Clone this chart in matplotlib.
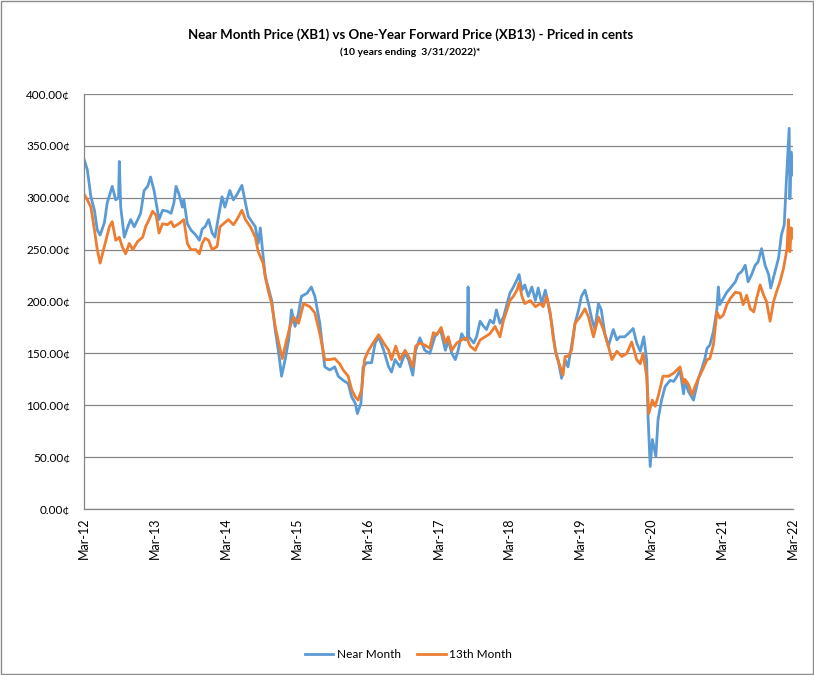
import matplotlib
matplotlib.use("Agg")
import matplotlib.pyplot as plt
import matplotlib.ticker as mticker
from matplotlib.patches import Rectangle
import pandas as pd

# dates as decimal years, prices in cents
near_t = [2012.24, 2012.29, 2012.34, 2012.39, 2012.43, 2012.47, 2012.53, 2012.57, 2012.64, 2012.69,
          2012.73, 2012.74, 2012.76, 2012.81, 2012.86, 2012.90, 2012.95,
          2013.00, 2013.04, 2013.09, 2013.14, 2013.18, 2013.23, 2013.26, 2013.30, 2013.35, 2013.42,
          2013.47, 2013.51, 2013.54, 2013.58, 2013.63, 2013.65, 2013.70, 2013.75, 2013.82, 2013.87, 2013.91,
          2013.95, 2014.00, 2014.05, 2014.09, 2014.14, 2014.19, 2014.23, 2014.30, 2014.35, 2014.40, 2014.47,
          2014.52, 2014.56, 2014.66, 2014.70, 2014.73, 2014.76, 2014.80, 2014.84, 2014.89, 2014.94, 2014.99,
          2015.03, 2015.08, 2015.13, 2015.17, 2015.22, 2015.27, 2015.31, 2015.39, 2015.45, 2015.50, 2015.57,
          2015.64, 2015.71, 2015.78, 2015.83, 2015.90, 2015.97,
          2016.02, 2016.07, 2016.10, 2016.15, 2016.18, 2016.23, 2016.30, 2016.35, 2016.40, 2016.47, 2016.54,
          2016.58, 2016.63, 2016.70, 2016.77, 2016.82, 2016.88, 2016.92, 2016.98,
          2017.05, 2017.12, 2017.19, 2017.27,
          2017.34, 2017.38, 2017.43, 2017.48, 2017.52, 2017.57, 2017.62, 2017.65, 2017.66, 2017.67, 2017.74,
          2017.78, 2017.83, 2017.88, 2017.92, 2017.97,
          2018.02, 2018.06, 2018.11, 2018.16, 2018.21, 2018.25, 2018.30, 2018.35, 2018.38, 2018.42, 2018.46,
          2018.51, 2018.56, 2018.61, 2018.65, 2018.70, 2018.75, 2018.79, 2018.84, 2018.89, 2018.93, 2018.98,
          2019.03, 2019.07, 2019.12, 2019.17, 2019.22, 2019.26, 2019.31, 2019.36, 2019.40, 2019.45, 2019.50,
          2019.54, 2019.59, 2019.64, 2019.71, 2019.76, 2019.80, 2019.87, 2019.92, 2019.99,
          2020.04, 2020.09, 2020.14, 2020.18, 2020.20, 2020.23, 2020.26, 2020.31, 2020.34, 2020.39, 2020.44,
          2020.51, 2020.56, 2020.60, 2020.65, 2020.70,
          2020.72, 2020.77, 2020.84, 2020.91, 2020.96,
          2021.00, 2021.03, 2021.07, 2021.12, 2021.17, 2021.19, 2021.21, 2021.26, 2021.31, 2021.36, 2021.43,
          2021.47, 2021.52, 2021.57, 2021.61, 2021.66, 2021.71, 2021.75, 2021.80, 2021.85, 2021.90, 2021.93,
          2021.98,
          2022.04, 2022.08, 2022.12, 2022.15, 2022.17, 2022.19, 2022.20, 2022.22, 2022.25]
near_cents = [338, 327, 301, 288, 269, 264, 276, 295, 311, 298,
              300, 335, 291, 262, 272, 279, 272,
              279, 285, 307, 311, 320, 307, 295, 279, 288, 287,
              285, 295, 311, 304, 291, 298, 275, 269, 264, 259, 270,
              272, 279, 266, 262, 282, 301, 291, 307, 298, 303, 312,
              295, 282, 272, 256, 271, 250, 224, 214, 201, 173, 150,
              128, 144, 163, 192, 176, 189, 205, 208, 214, 205, 179,
              137, 134, 137, 128, 124, 121,
              108, 102, 92, 102, 137, 141, 141, 160, 166, 153, 137,
              132, 144, 137, 150, 144, 129, 153, 165,
              153, 150, 166, 173,
              153, 163, 150, 144, 153, 169, 163, 165, 214, 166, 160,
              166, 181, 176, 173, 182,
              179, 192, 179, 185, 198, 208, 214, 221, 226, 211, 216,
              205, 214, 201, 213, 198, 211, 198, 179, 153, 144, 126,
              144, 137, 157, 179, 192, 205, 211, 198, 185, 173, 198,
              192, 169, 157, 173, 163, 166, 166, 169, 174,
              160, 152, 166, 144, 89, 41, 67, 51, 86, 105, 118,
              124, 123, 127, 134, 111,
              123, 113, 105, 126, 136,
              145, 155, 158, 171, 193, 214, 197, 203, 209, 213, 219,
              226, 229, 235, 219, 226, 235, 238, 251, 235, 226, 213,
              226,
              242, 264, 274, 316, 341, 367, 299, 344, 322]

fwd_t = [2012.24, 2012.29, 2012.34, 2012.39, 2012.43, 2012.47, 2012.53, 2012.60, 2012.64, 2012.69,
         2012.74, 2012.78, 2012.83, 2012.88, 2012.93,
         2013.00, 2013.07, 2013.11, 2013.16, 2013.21, 2013.26, 2013.30, 2013.35, 2013.42, 2013.47,
         2013.51, 2013.58, 2013.65, 2013.70, 2013.75, 2013.82, 2013.87, 2013.91,
         2013.95, 2014.00, 2014.05, 2014.12, 2014.16, 2014.21, 2014.28, 2014.35, 2014.40, 2014.47,
         2014.52, 2014.59, 2014.66, 2014.70, 2014.77, 2014.80, 2014.84, 2014.89, 2014.94, 2014.99,
         2015.04, 2015.09, 2015.15, 2015.20, 2015.27, 2015.34, 2015.43, 2015.50, 2015.57,
         2015.64, 2015.71, 2015.78, 2015.85, 2015.90, 2015.97,
         2016.02, 2016.07, 2016.11, 2016.16, 2016.20, 2016.25, 2016.32, 2016.40, 2016.47, 2016.54,
         2016.58, 2016.64, 2016.70, 2016.77, 2016.82, 2016.88, 2016.92, 2016.98,
         2017.05, 2017.12, 2017.17, 2017.22, 2017.28,
         2017.34, 2017.38, 2017.43, 2017.50, 2017.57, 2017.64, 2017.69, 2017.76, 2017.83, 2017.90, 2017.97,
         2018.04, 2018.11, 2018.16, 2018.21, 2018.25, 2018.30, 2018.35, 2018.38, 2018.42, 2018.46,
         2018.54, 2018.61, 2018.68, 2018.72, 2018.77, 2018.82, 2018.86, 2018.91, 2018.96, 2019.00,
         2019.03, 2019.07, 2019.12, 2019.17, 2019.24, 2019.31, 2019.36, 2019.43, 2019.50, 2019.57,
         2019.64, 2019.69, 2019.76, 2019.83, 2019.90, 2019.97,
         2020.04, 2020.09, 2020.13, 2020.18, 2020.21, 2020.26, 2020.30, 2020.34, 2020.41, 2020.49,
         2020.56, 2020.65, 2020.70,
         2020.72, 2020.77, 2020.82, 2020.86, 2020.91, 2020.98,
         2021.03, 2021.07, 2021.12, 2021.17, 2021.21, 2021.26, 2021.31, 2021.36, 2021.43, 2021.50,
         2021.54, 2021.59, 2021.64, 2021.69, 2021.73, 2021.78, 2021.83, 2021.87, 2021.92, 2021.97,
         2022.01, 2022.06, 2022.11, 2022.16, 2022.18, 2022.20, 2022.22, 2022.25]
fwd_cents = [304, 298, 291, 269, 250, 237, 253, 272, 277, 259,
             262, 253, 246, 256, 250,
             258, 262, 272, 279, 287, 283, 266, 275, 274, 277,
             272, 275, 279, 256, 250, 250, 246, 256,
             261, 259, 250, 253, 272, 275, 279, 274, 279, 288,
             279, 272, 262, 248, 237, 224, 211, 198, 176, 160,
             145, 160, 176, 185, 179, 198, 195, 189, 169,
             144, 144, 145, 140, 134, 128,
             115, 108, 105, 115, 144, 152, 160, 168, 160, 153,
             144, 157, 144, 153, 147, 137, 157, 160,
             158, 155, 170, 168, 175,
             160, 166, 153, 160, 163, 165, 157, 153, 163, 166, 169,
             176, 166, 182, 192, 201, 205, 211, 218, 205, 198,
             201, 195, 198, 195, 205, 189, 166, 147, 137, 129,
             147, 147, 153, 179, 185, 193, 185, 166, 185, 173,
             157, 144, 152, 147, 150, 161,
             144, 140, 150, 128, 92, 105, 99, 108, 128, 128,
             131, 137, 121,
             125, 120, 110, 118, 126, 136,
             144, 145, 158, 190, 184, 187, 197, 203, 209, 208,
             197, 206, 193, 190, 203, 216, 206, 200, 181, 200,
             209, 219, 232, 251, 279, 248, 271, 261]

year_ticks = list(range(2012, 2023))


def to_date(t):
    y = int(t)
    start = pd.Timestamp(year=y, month=1, day=1)
    ndays = 366 if pd.Timestamp(year=y, month=12, day=31).dayofyear == 366 else 365
    return start + pd.Timedelta(days=(t - y) * ndays)


near_dates = [to_date(t) for t in near_t]
fwd_dates = [to_date(t) for t in fwd_t]

plt.rcParams['font.family'] = ['Lato', 'DejaVu Sans']

fig = plt.figure(figsize=(8.14, 6.75), dpi=100)
ax = fig.add_axes([0.1032, 0.2459, 0.871, 0.6148])

ax.plot(near_dates, near_cents, color='#5B9BD5', lw=2.0, solid_joinstyle='round', label='Near Month')
ax.plot(fwd_dates, fwd_cents, color='#ED7D31', lw=2.0, solid_joinstyle='round', label='13th Month')

ax.set_ylim(0, 400)
ax.yaxis.set_major_locator(mticker.MultipleLocator(50))
ax.yaxis.set_major_formatter(mticker.FuncFormatter(lambda v, p: '%.2f\u00a2' % v))
ax.grid(axis='y', color='#868686', lw=0.9)
ax.set_axisbelow(True)

ticks = [pd.Timestamp(year=y, month=3, day=30) for y in year_ticks]
ax.set_xlim(ticks[0], pd.Timestamp(2022, 3, 31))
ax.set_xticks(ticks)
ax.set_xticklabels(['Mar-%02d' % (y % 100) for y in year_ticks], rotation=90)

for s in ['top', 'right']:
    ax.spines[s].set_visible(False)
for s in ['left', 'bottom']:
    ax.spines[s].set_color('#868686')
    ax.spines[s].set_linewidth(0.9)
ax.tick_params(axis='both', length=0, labelsize=8.5, colors='#000000')
ax.tick_params(axis='x', labelsize=9, pad=6)
ax.tick_params(axis='y', pad=10)

fig.text(0.504, 0.948, 'Near Month Price (XB1) vs One-Year Forward Price (XB13) - Priced in cents',
         ha='center', va='center', fontsize=9.5, fontweight='bold')
fig.text(0.504, 0.923, '(10 years ending  3/31/2022)*',
         ha='center', va='center', fontsize=7.5, fontweight='bold')

fig.legend(loc='center', bbox_to_anchor=(0.502, 0.03), ncol=2, frameon=False,
           fontsize=8.5, handlelength=2.4, columnspacing=1.4, handletextpad=0.3)

fig.patches.append(Rectangle((0.0008, 0.001), 0.998, 0.998, transform=fig.transFigure,
                             fill=False, edgecolor='#8c8c8c', lw=1.0))

fig.savefig('out.png', dpi=100)
